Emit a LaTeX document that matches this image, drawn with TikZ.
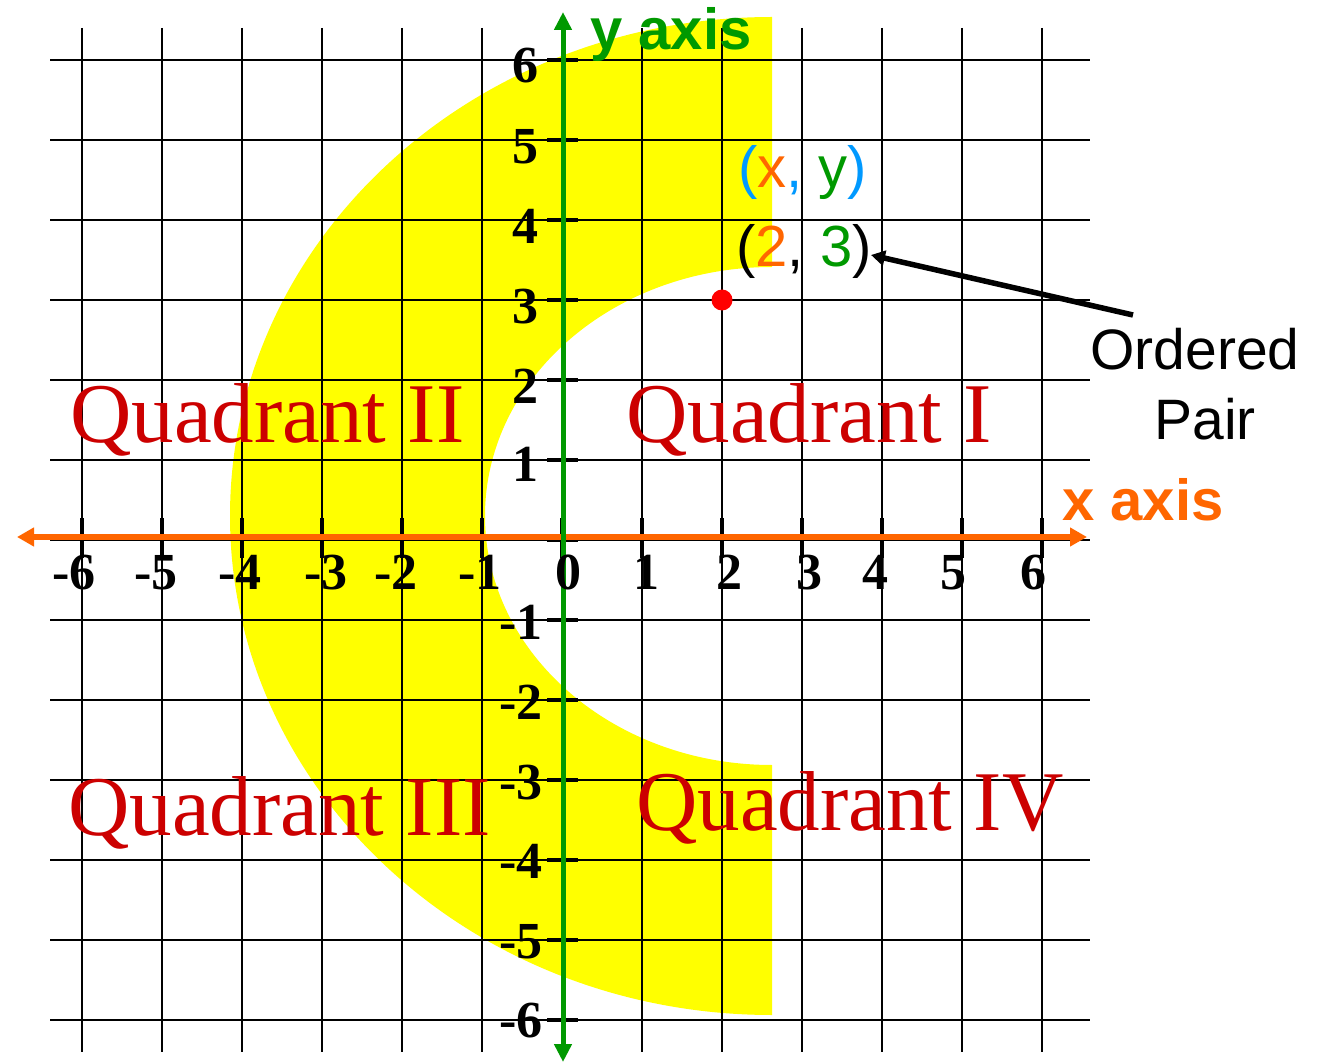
\documentclass[tikz,border=0pt]{standalone}
\usepackage{fontspec}
\setmainfont{Liberation Serif}
\newfontfamily\sansf{Liberation Sans}
\usetikzlibrary{arrows.meta}
\definecolor{axorange}{HTML}{FF6600}
\definecolor{axgreen}{HTML}{009900}
\definecolor{qred}{HTML}{CC0000}
\definecolor{lblue}{HTML}{0099FF}
\definecolor{cyellow}{HTML}{FFFF00}
\tikzset{
  gridline/.style={black, line width=2.6pt},
  tickline/.style={black, line width=3.2pt},
  quad/.style={text=qred, font=\fontsize{85}{85}\selectfont, inner sep=0pt, anchor=base west},
  numlab/.style={font=\bfseries\fontsize{52}{52}\selectfont, inner sep=0pt, anchor=base east},
  axislab/.style={font=\sansf\bfseries\fontsize{58}{58}\selectfont, inner sep=0pt, anchor=base west},
  pairtxt/.style={font=\sansf\fontsize{58}{58}\selectfont, inner sep=0pt, anchor=base west},
  optxt/.style={font=\sansf\fontsize{57}{57}\selectfont, inner sep=0pt, anchor=base},
  xaxisline/.style={axorange, line width=6pt, {Triangle[length=17pt,width=18pt]}-{Triangle[length=17pt,width=18pt]}},
  yaxisline/.style={axgreen, line width=5pt, {Triangle[length=18pt,width=17pt]}-{Triangle[length=18pt,width=17pt]}},
  ptr/.style={black, line width=5.5pt, -{Triangle[length=14pt,width=15pt]}},
}
\begin{document}
\begin{tikzpicture}[x=1pt,y=-1pt]
\useasboundingbox (0,0) rectangle (1318,1064);
\fill[white] (0,0) rectangle (1318,1064);
% yellow C shape
\begin{scope}
  \clip (0,0) rectangle (772,1064);
  \fill[cyellow, even odd rule] (772,516) ellipse[x radius=542, y radius=499]
                                (772,516) ellipse[x radius=287, y radius=249];
\end{scope}
% grid
\foreach \k in {0,...,12} {
  \draw[gridline] (82+80*\k,28) -- (82+80*\k,1052);
  \draw[gridline] (50,60+80*\k) -- (1090,60+80*\k);
  \draw[tickline] (82+80*\k,518) -- (82+80*\k,558);
  \draw[tickline] (547,60+80*\k) -- (578,60+80*\k);
}
% axes
\coordinate (xl) at (17,537);
\coordinate (xr) at (1087,537);
\coordinate (yt) at (563,12);
\coordinate (yb) at (563,1062);
\draw[xaxisline] (xl) -- (xr);
\draw[yaxisline] (yb) -- (yt);
% axis labels
\node[axislab, text=axgreen] (ylab) at (590,50) {y axis};
\node[axislab, text=axorange] (xlab) at (1062,520) {x axis};
% x numbers
\node[numlab] (xm6) at (96,589) {-6};
\node[numlab] (xm5) at (178,589) {-5};
\node[numlab] (xm4) at (262,589) {-4};
\node[numlab] (xm3) at (348,589) {-3};
\node[numlab] (xm2) at (418,589) {-2};
\node[numlab] (xm1) at (502,589) {-1};
\node[numlab] (x0) at (582,589) {0};
\node[numlab] (x1) at (660,589) {1};
\node[numlab] (x2) at (743,589) {2};
\node[numlab] (x3) at (823,589) {3};
\node[numlab] (x4) at (889,589) {4};
\node[numlab] (x5) at (967,589) {5};
\node[numlab] (x6) at (1047,589) {6};
% y numbers
\node[numlab] (y6) at (539,83) {6};
\node[numlab] (y5) at (539,164) {5};
\node[numlab] (y4) at (539,244) {4};
\node[numlab] (y3) at (539,324) {3};
\node[numlab] (y2) at (539,404) {2};
\node[numlab] (y1) at (539,482) {1};
\node[numlab] (ym1) at (543,639) {-1};
\node[numlab] (ym2) at (543,719) {-2};
\node[numlab] (ym3) at (543,799) {-3};
\node[numlab] (ym4) at (543,878) {-4};
\node[numlab] (ym5) at (543,958) {-5};
\node[numlab] (ym6) at (543,1037) {-6};
% quadrant labels
\node[quad] (q2) at (70,443) {Quadrant II};
\node[quad] (q1) at (626,443) {Quadrant I};
\node[quad] (q3) at (68,835) {Quadrant III};
\node[quad] (q4) at (636,830) {Quadrant IV};
% point and ordered pair
\node[circle, fill=red, minimum size=21pt, inner sep=0pt] (pt) at (722,300) {};
\node[pairtxt] (xy) at (738,188) {\textcolor{lblue}{(}\textcolor{axorange}{x}\textcolor{lblue}{,} \textcolor{axgreen}{y}\textcolor{lblue}{)}};
\node[pairtxt] (p23) at (736,267) {(\textcolor{axorange}{2}, \textcolor{axgreen}{3})};
\node[optxt] (ord) at (1195,370) {Ordered};
\node[optxt] (pair) at (1205,440) {Pair};
\coordinate (optail) at (1133,315);
\coordinate (optip) at (871,255);
\draw[ptr] (optail) -- (optip);
\end{tikzpicture}
\end{document}
